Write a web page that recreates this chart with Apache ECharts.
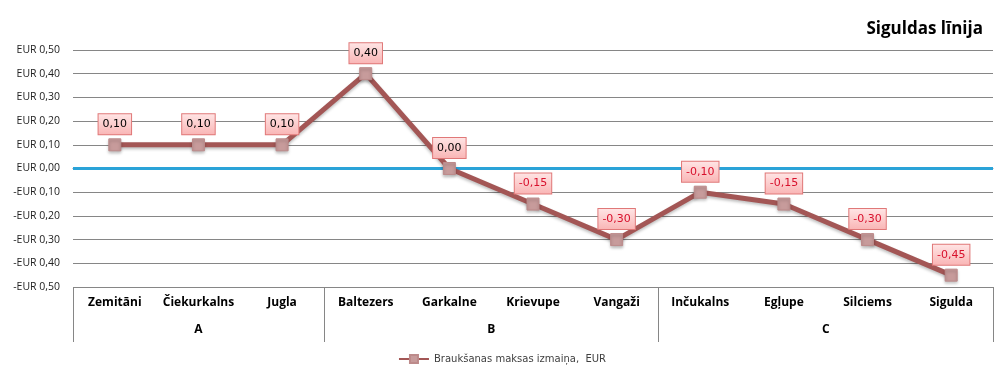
<!DOCTYPE html>
<html>
<head>
<meta charset="utf-8">
<script src="https://cdn.jsdelivr.net/npm/echarts@6/dist/echarts.min.js"></script>
<style>html,body{margin:0;padding:0;background:#fff}#c{width:1004px;height:372px}</style>
</head>
<body>
<div id="c"></div>
<script>
var categories = ['Zemitāni','Čiekurkalns','Jugla','Baltezers','Garkalne','Krievupe','Vangaži','Inčukalns','Egļupe','Silciems','Sigulda'];
var groups = ['A','B','C'];
var groupBounds = [0,3,7,11];
var values = [0.10,0.10,0.10,0.40,0.00,-0.15,-0.30,-0.10,-0.15,-0.30,-0.45];
var seriesName = 'Braukšanas maksas izmaiņa,  EUR';
var titleText = 'Siguldas līnija';

var groupCenters = [];
for (var i = 0; i < groups.length; i++) groupCenters.push((groupBounds[i] + groupBounds[i+1]) / 2);

function fmtNum(v){ return Math.abs(v).toFixed(2).replace('.', ','); }

var chart = echarts.init(document.getElementById('c'), null, {renderer:'canvas'});
chart.setOption({
  animation: false,
  backgroundColor: '#fff',
  title: {
    text: titleText, right: 16, top: 16,
    textStyle: {fontFamily: 'Open Sans', fontWeight: 'bold', fontSize: 17, color: '#000'}
  },
  legend: {
    bottom: 3, left: 'center',
    itemWidth: 30, itemHeight: 10,
    textStyle: {fontFamily: 'DejaVu Sans', fontSize: 10, color: '#404040'},
    data: [seriesName]
  },
  grid: {left: 73, right: 11, top: 50, bottom: 85, containLabel: false},
  xAxis: [{
    type: 'category', data: categories, boundaryGap: true,
    axisLine: {show: true, lineStyle: {color: '#868686', width: 1}},
    axisTick: {show: false},
    axisLabel: {interval: 0, margin: 10, fontFamily: 'Open Sans', fontWeight: 'bold', fontSize: 12, color: '#000'},
    splitLine: {show: false}
  }, {
    type: 'value', min: 0, max: 11, position: 'bottom',
    axisLine: {show: false},
    axisTick: {show: true, customValues: groupBounds, length: 55, lineStyle: {color: '#868686', width: 1}},
    axisLabel: {show: true, customValues: groupCenters, margin: 37,
      fontFamily: 'Open Sans', fontWeight: 'bold', fontSize: 12, color: '#000',
      formatter: function(v){ var k = groupCenters.indexOf(v); return k >= 0 ? groups[k] : ''; }},
    splitLine: {show: false}
  }],
  yAxis: {
    type: 'value', min: -0.5, max: 0.5, interval: 0.1,
    axisLine: {show: false}, axisTick: {show: false},
    axisLabel: {margin: 13, fontFamily: 'Open Sans', fontSize: 10.5, color: '#222',
      formatter: function(v){ v = Math.round(v*100)/100; return (v < 0 ? '-' : '') + 'EUR ' + fmtNum(v); }},
    splitLine: {show: true, lineStyle: {color: '#868686', width: 1}}
  },
  series: [{
    name: seriesName, type: 'line', data: values, xAxisIndex: 0, yAxisIndex: 0,
    symbol: 'rect', symbolSize: 12, z: 5,
    lineStyle: {color: '#a35655', width: 5, shadowColor: 'rgba(0,0,0,0.25)', shadowBlur: 3, shadowOffsetY: 2},
    itemStyle: {color: '#c79b9b', borderColor: '#bd8b8b', borderWidth: 1, shadowColor: 'rgba(0,0,0,0.25)', shadowBlur: 3, shadowOffsetY: 2},
    label: {
      show: true, position: 'top', distance: 4,
      formatter: function(p){ var v = Math.round(p.value*100)/100; return v < 0 ? '{n|-' + fmtNum(v) + '}' : '{p|' + fmtNum(v) + '}'; },
      rich: {
        p: {fontFamily: 'DejaVu Sans', fontSize: 11, color: '#000', lineHeight: 14},
        n: {fontFamily: 'DejaVu Sans', fontSize: 11, color: '#d8102c', lineHeight: 14}
      },
      fontFamily: 'DejaVu Sans', fontSize: 11, color: '#000', lineHeight: 14,
      padding: [3, 4, 3, 4],
      backgroundColor: {type: 'linear', x: 0, y: 0, x2: 0, y2: 1,
        colorStops: [{offset: 0, color: '#ffe6e6'}, {offset: 1, color: '#f9b4b4'}]},
      borderColor: '#e07878', borderWidth: 1
    },
    markLine: {
      silent: true, symbol: ['none','none'], z: 1,
      label: {show: false},
      lineStyle: {color: '#2aa3d8', width: 3, type: 'solid'},
      data: [{yAxis: 0}]
    }
  }]
});
</script>
</body>
</html>
